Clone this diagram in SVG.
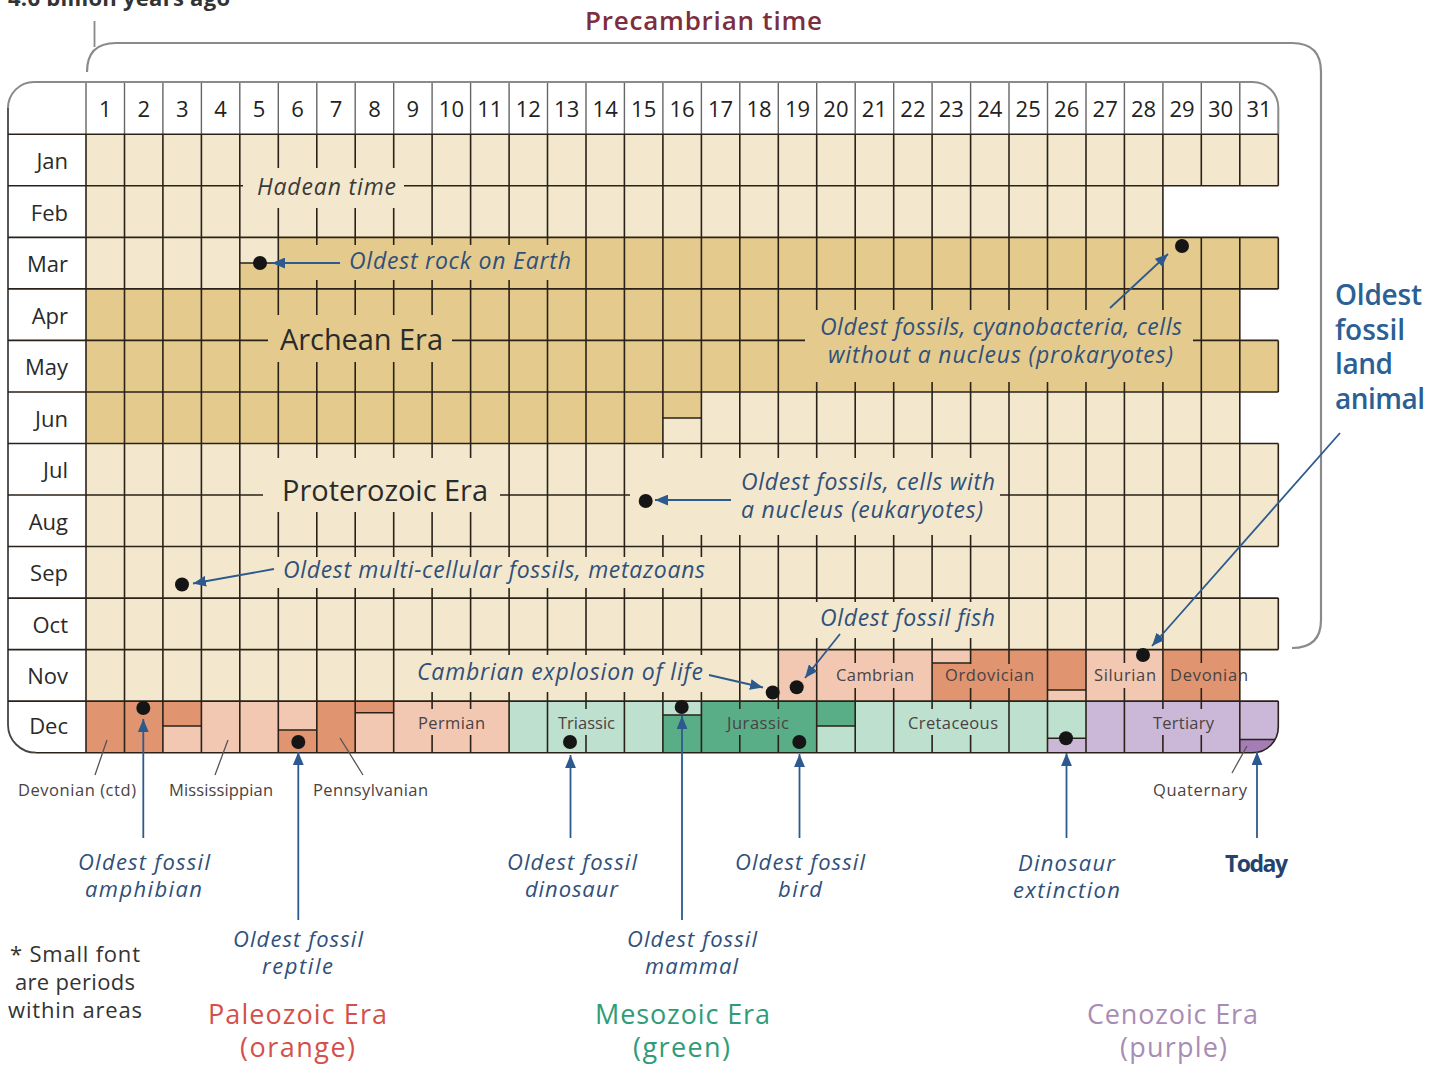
<svg xmlns="http://www.w3.org/2000/svg" width="1440" height="1065" viewBox="0 0 1440 1065">
<defs>
<style>
text{font-family:"Open Sans","Noto Sans","Liberation Sans",sans-serif}
.lt{fill:#F3E8CD}.dk{fill:#E4CA8C}.po{fill:#E0946F}.pl{fill:#F2C8B2}.gl{fill:#BEE0CF}.gd{fill:#5AAE87}.cl{fill:#CBB8D8}.cd{fill:#A57DB5}
.grid{stroke:#2a2219;stroke-width:1.6;fill:none}
.hdl{stroke:#666;stroke-width:1.4;fill:none}
.split{stroke:#2a2219;stroke-width:1.6}
.hd{font-size:22px;fill:#222;text-anchor:middle}
.mo{font-size:22px;fill:#2a2a2a;text-anchor:end}
.it{font-style:italic;font-size:23px;font-weight:500;fill:#30507a}
.era{font-size:29px;fill:#2b2b2b}
.per{font-size:16.5px;fill:#4a4242;text-anchor:middle}
.fl{font-style:italic;font-size:22px;font-weight:500;fill:#30507a;text-anchor:middle}
.arr{stroke:#2d5a8e;stroke-width:1.8;fill:none;marker-end:url(#ah)}
.lead{stroke:#555;stroke-width:1.3;fill:none}
.dot{fill:#151515}
.big{font-size:27px;text-anchor:middle}
</style>
<marker id="ah" viewBox="0 0 12 10" refX="12" refY="5" markerWidth="13" markerHeight="11" markerUnits="userSpaceOnUse" orient="auto">
<path d="M0,0 L12,5 L0,10 z" fill="#2d5a8e"/>
</marker>
</defs>
<rect width="1440" height="1065" fill="#fff"/>

<!-- top annotations -->
<g id="top-labels">
<text x="8" y="6" font-size="22" font-weight="bold" fill="#333" textLength="222">4.6 billion years ago</text>
<line x1="94.5" y1="21" x2="94.5" y2="47" stroke="#888" stroke-width="1.8"/>
<path d="M87,72 Q87,43 116,43 H1292 Q1321,43 1321,72 V620 Q1321,648 1292,648" stroke="#8a8a8a" stroke-width="2.2" fill="none"/>
<text x="703.5" y="30" font-size="26" font-weight="600" fill="#7d2e3e" text-anchor="middle" textLength="237">Precambrian time</text>
</g>

<!-- region fills -->
<g id="fills">
<rect class="lt" x="86" y="134.3" width="1192.3" height="51.5"/>
<rect class="lt" x="86" y="185.8" width="1076.9" height="51.6"/>
<rect class="lt" x="86" y="237.4" width="192.3" height="51.5"/>
<rect class="dk" x="239.8" y="263" width="38.5" height="25.9"/>
<rect class="dk" x="278.3" y="237.4" width="1000" height="51.5"/>
<rect class="dk" x="86" y="288.9" width="1153.8" height="51.5"/>
<rect class="dk" x="86" y="340.4" width="1192.3" height="51.6"/>
<rect class="dk" x="86" y="392" width="615.4" height="51.5"/>
<rect class="lt" x="662.9" y="418" width="38.5" height="25.5"/>
<rect class="lt" x="701.4" y="392" width="538.4" height="51.5"/>
<rect class="lt" x="86" y="443.5" width="1192.3" height="103"/>
<rect class="lt" x="86" y="546.5" width="1153.8" height="51.6"/>
<rect class="lt" x="86" y="598.1" width="1192.3" height="51.5"/>
<!-- Nov -->
<rect class="lt" x="86" y="649.6" width="692.3" height="51.5"/>
<rect class="pl" x="778.3" y="649.6" width="153.8" height="51.5"/>
<rect class="po" x="932.1" y="649.6" width="115.4" height="51.5"/>
<rect class="pl" x="932.1" y="649.6" width="38.5" height="13.4"/>
<rect class="po" x="1047.5" y="649.6" width="38.5" height="51.5"/>
<rect class="pl" x="1047.5" y="690" width="38.5" height="11.1"/>
<rect class="pl" x="1086" y="649.6" width="76.9" height="51.5"/>
<rect class="po" x="1162.9" y="649.6" width="76.9" height="51.5"/>
<!-- Dec -->
<rect class="po" x="86" y="701.1" width="115.4" height="51.6"/>
<rect class="pl" x="162.9" y="726" width="38.5" height="26.7"/>
<rect class="pl" x="201.4" y="701.1" width="115.4" height="51.6"/>
<rect class="po" x="278.3" y="730" width="38.5" height="22.7"/>
<rect class="po" x="316.8" y="701.1" width="76.9" height="51.6"/>
<rect class="pl" x="355.2" y="712.7" width="38.5" height="40"/>
<rect class="pl" x="393.7" y="701.1" width="115.4" height="51.6"/>
<rect class="gl" x="509.1" y="701.1" width="192.3" height="51.6"/>
<rect class="gd" x="662.9" y="715" width="38.5" height="37.7"/>
<rect class="gd" x="701.4" y="701.1" width="153.8" height="51.6"/>
<rect class="gl" x="816.7" y="726" width="38.5" height="26.7"/>
<rect class="gl" x="855.2" y="701.1" width="230.8" height="51.6"/>
<rect class="cl" x="1047.5" y="738.3" width="38.5" height="14.4"/>
<rect class="cl" x="1086" y="701.1" width="153.8" height="51.6"/>
<path class="cl" d="M1239.8,701.1 H1278.3 V727.1 A25.6,25.6 0 0 1 1252.7,752.7 H1239.8 Z"/>
<path class="cd" d="M1239.8,739.5 H1275.1 A25.6,25.6 0 0 1 1252.7,752.7 H1239.8 Z"/>
</g>

<!-- grid -->
<g id="grid">
<path class="hdl" d="M86,82V134.3 M124.5,82V134.3 M162.9,82V134.3 M201.4,82V134.3 M239.8,82V134.3 M278.3,82V134.3 M316.8,82V134.3 M355.2,82V134.3 M393.7,82V134.3 M432.1,82V134.3 M470.6,82V134.3 M509.1,82V134.3 M547.5,82V134.3 M586,82V134.3 M624.4,82V134.3 M662.9,82V134.3 M701.4,82V134.3 M739.8,82V134.3 M778.3,82V134.3 M816.7,82V134.3 M855.2,82V134.3 M893.7,82V134.3 M932.1,82V134.3 M970.6,82V134.3 M1009,82V134.3 M1047.5,82V134.3 M1086,82V134.3 M1124.4,82V134.3 M1162.9,82V134.3 M1201.3,82V134.3 M1239.8,82V134.3"/>
<path d="M8,108 A26,26 0 0 1 34,82 H1252.7 A25.6,25.6 0 0 1 1278.3,107.6 V134.3" stroke="#8a8a8a" stroke-width="2" fill="none"/>
<path d="M8,108 V724.7 A28,28 0 0 0 36,752.7" stroke="#444" stroke-width="1.8" fill="none"/>
<path class="grid" d="M86,134.3V752.7 M124.5,134.3V752.7 M162.9,134.3V752.7 M201.4,134.3V752.7 M239.8,134.3V752.7 M278.3,134.3V752.7 M316.8,134.3V752.7 M355.2,134.3V752.7 M393.7,134.3V752.7 M432.1,134.3V752.7 M470.6,134.3V752.7 M509.1,134.3V752.7 M547.5,134.3V752.7 M586,134.3V752.7 M624.4,134.3V752.7 M662.9,134.3V752.7 M701.4,134.3V752.7 M739.8,134.3V752.7 M778.3,134.3V752.7 M816.7,134.3V752.7 M855.2,134.3V752.7 M893.7,134.3V752.7 M932.1,134.3V752.7 M970.6,134.3V752.7 M1009,134.3V752.7 M1047.5,134.3V752.7 M1086,134.3V752.7 M1124.4,134.3V752.7 M1162.9,134.3V752.7 M1201.3,134.3V185.8 M1201.3,237.4V752.7 M1239.8,134.3V185.8 M1239.8,237.4V752.7 M1278.3,134.3V185.8 M1278.3,237.4V288.9 M1278.3,340.4V392 M1278.3,443.5V546.5 M1278.3,598.1V649.6 M1278.3,701.1V727.1 A25.6,25.6 0 0 1 1252.7,752.7 H36 M8,134.3H1278.3 M8,185.8H1278.3 M8,237.4H1278.3 M8,288.9H1278.3 M8,340.4H1278.3 M8,392H1278.3 M8,443.5H1278.3 M8,495H1278.3 M8,546.5H1278.3 M8,598.1H1278.3 M8,649.6H1278.3 M8,701.1H1278.3"/>
</g>

<!-- label knockouts -->
<g id="knockouts">
<rect class="lt" x="243" y="168" width="161" height="40"/>
<rect class="dk" x="282" y="245" width="296" height="35"/>
<rect class="dk" x="268" y="315" width="184" height="47"/>
<rect class="dk" x="805" y="310" width="388" height="72"/>
<rect class="lt" x="263" y="458" width="237" height="54"/>
<rect class="lt" x="630" y="458" width="370" height="77"/>
<rect class="lt" x="248" y="557" width="464" height="31"/>
<rect class="lt" x="806" y="602" width="194" height="36"/>
<rect class="lt" x="405" y="655" width="307" height="37"/>
<rect class="pl" x="832" y="663" width="86" height="25"/>
<rect class="po" x="941" y="664" width="97" height="24"/>
<rect class="pl" x="1090" y="663" width="70" height="25"/>
<rect class="po" x="1166" y="663" width="73" height="25"/>
<rect class="pl" x="412" y="709" width="78" height="26"/>
<rect class="gl" x="553" y="709" width="67" height="26"/>
<rect class="gd" x="722" y="709" width="72" height="26"/>
<rect class="gl" x="903" y="709" width="100" height="26"/>
<rect class="cl" x="1148" y="709" width="71" height="26"/>
</g>

<!-- split lines inside cells -->
<g id="splits">
<path class="split" d="M239.8,263H278.3 M662.9,418H701.4 M932.1,663H970.6 M1047.5,690H1086 M162.9,726H201.4 M278.3,730H316.8 M355.2,712.7H393.7 M662.9,715H701.4 M816.7,726H855.2 M1047.5,738.3H1086 M1239.8,739.5H1275.1"/>
</g>

<!-- header numbers -->
<g id="days">
<text class="hd" x="105.2" y="117">1</text><text class="hd" x="143.7" y="117">2</text><text class="hd" x="182.2" y="117">3</text><text class="hd" x="220.6" y="117">4</text><text class="hd" x="259.1" y="117">5</text><text class="hd" x="297.5" y="117">6</text><text class="hd" x="336" y="117">7</text><text class="hd" x="374.5" y="117">8</text><text class="hd" x="412.9" y="117">9</text><text class="hd" x="451.4" y="117">10</text><text class="hd" x="489.8" y="117">11</text><text class="hd" x="528.3" y="117">12</text><text class="hd" x="566.7" y="117">13</text><text class="hd" x="605.2" y="117">14</text><text class="hd" x="643.7" y="117">15</text><text class="hd" x="682.1" y="117">16</text><text class="hd" x="720.6" y="117">17</text><text class="hd" x="759" y="117">18</text><text class="hd" x="797.5" y="117">19</text><text class="hd" x="835.9" y="117">20</text><text class="hd" x="874.4" y="117">21</text><text class="hd" x="912.9" y="117">22</text><text class="hd" x="951.3" y="117">23</text><text class="hd" x="989.8" y="117">24</text><text class="hd" x="1028.2" y="117">25</text><text class="hd" x="1066.7" y="117">26</text><text class="hd" x="1105.2" y="117">27</text><text class="hd" x="1143.6" y="117">28</text><text class="hd" x="1182.1" y="117">29</text><text class="hd" x="1220.5" y="117">30</text><text class="hd" x="1259" y="117">31</text>
</g>

<!-- month labels -->
<g id="months">
<text class="mo" x="68" y="169">Jan</text>
<text class="mo" x="68" y="220.5">Feb</text>
<text class="mo" x="68" y="272">Mar</text>
<text class="mo" x="68" y="323.5">Apr</text>
<text class="mo" x="68" y="375">May</text>
<text class="mo" x="68" y="426.5">Jun</text>
<text class="mo" x="68" y="478">Jul</text>
<text class="mo" x="68" y="529.5">Aug</text>
<text class="mo" x="68" y="581">Sep</text>
<text class="mo" x="68" y="632.5">Oct</text>
<text class="mo" x="68" y="684">Nov</text>
<text class="mo" x="68" y="734">Dec</text>
</g>

<!-- in-grid labels -->
<g id="grid-labels">
<text class="it" x="326.5" y="195" style="fill:#3a3a3a" text-anchor="middle" textLength="139">Hadean time</text>
<text class="it" x="349" y="269" textLength="222">Oldest rock on Earth</text>
<text class="era" x="280" y="350" textLength="163">Archean Era</text>
<text class="it" x="1001" y="335" text-anchor="middle" textLength="362">Oldest fossils, cyanobacteria, cells</text>
<text class="it" x="1000.5" y="363" text-anchor="middle" textLength="345">without a nucleus (prokaryotes)</text>
<text class="era" x="282" y="501" textLength="206">Proterozoic Era</text>
<text class="it" x="741" y="490" textLength="254">Oldest fossils, cells with</text>
<text class="it" x="741" y="518" textLength="242">a nucleus (eukaryotes)</text>
<text class="it" x="283" y="578" textLength="422">Oldest multi-cellular fossils, metazoans</text>
<text class="it" x="820" y="626" textLength="175">Oldest fossil fish</text>
<text class="it" x="417" y="680" textLength="286">Cambrian explosion of life</text>
<text class="per" x="875" y="681" textLength="78">Cambrian</text>
<text class="per" x="989.5" y="681" textLength="89">Ordovician</text>
<text class="per" x="1125" y="681" textLength="62">Silurian</text>
<text class="per" x="1209" y="681" textLength="78">Devonian</text>
<text class="per" x="451.5" y="729" textLength="67">Permian</text>
<text class="per" x="586.5" y="729" textLength="57">Triassic</text>
<text class="per" x="758" y="729" textLength="62">Jurassic</text>
<text class="per" x="953" y="729" textLength="90">Cretaceous</text>
<text class="per" x="1183.5" y="729" textLength="61">Tertiary</text>
</g>

<!-- labels below the grid -->
<g id="bottom-labels">
<text class="per" x="77" y="796" textLength="118">Devonian (ctd)</text>
<text class="per" x="221" y="796" textLength="104">Mississippian</text>
<text class="per" x="370.5" y="796" textLength="115">Pennsylvanian</text>
<text class="per" x="1200" y="796" textLength="94">Quaternary</text>
<g id="amphibian"><text class="fl" x="144" y="870" textLength="132">Oldest fossil</text><text class="fl" x="143.5" y="897" textLength="117">amphibian</text></g>
<g id="reptile"><text class="fl" x="298" y="947" textLength="130">Oldest fossil</text><text class="fl" x="297.5" y="974" textLength="71">reptile</text></g>
<g id="dinosaur"><text class="fl" x="572" y="870" textLength="130">Oldest fossil</text><text class="fl" x="571.5" y="897" textLength="93">dinosaur</text></g>
<g id="mammal"><text class="fl" x="692" y="947" textLength="130">Oldest fossil</text><text class="fl" x="691.5" y="974" textLength="93">mammal</text></g>
<g id="bird"><text class="fl" x="800" y="870" textLength="130">Oldest fossil</text><text class="fl" x="800" y="897" textLength="44">bird</text></g>
<g id="extinction"><text class="fl" x="1066.5" y="871" textLength="97">Dinosaur</text><text class="fl" x="1066.5" y="898" textLength="107">extinction</text></g>
<g id="today"><text x="1256.5" y="872" font-size="23" font-weight="bold" fill="#23436e" text-anchor="middle" textLength="63">Today</text></g>
<g id="note">
<text x="75" y="962" font-size="22" fill="#333" text-anchor="middle" textLength="130">* Small font</text>
<text x="75" y="990" font-size="22" fill="#333" text-anchor="middle" textLength="120">are periods</text>
<text x="75" y="1018" font-size="22" fill="#333" text-anchor="middle" textLength="134">within areas</text>
</g>
<g id="eras">
<text class="big" x="297.5" y="1024" fill="#d4504a" textLength="179">Paleozoic Era</text>
<text class="big" x="297.5" y="1057" fill="#d4504a" textLength="115">(orange)</text>
<text class="big" x="682.5" y="1024" fill="#2f9c78" textLength="175">Mesozoic Era</text>
<text class="big" x="681.5" y="1057" fill="#2f9c78" textLength="97">(green)</text>
<text class="big" x="1172.5" y="1024" fill="#a98cb3" textLength="171">Cenozoic Era</text>
<text class="big" x="1173.5" y="1057" fill="#a98cb3" textLength="107">(purple)</text>
</g>
<g id="land-animal">
<text x="1335" y="305" font-size="28" font-weight="600" fill="#2c5f93" textLength="87">Oldest</text>
<text x="1335" y="340" font-size="28" font-weight="600" fill="#2c5f93" textLength="70">fossil</text>
<text x="1335" y="374" font-size="28" font-weight="600" fill="#2c5f93" textLength="58">land</text>
<text x="1335" y="409" font-size="28" font-weight="600" fill="#2c5f93" textLength="90">animal</text>
</g>
</g>

<!-- connectors -->
<g id="connectors">
<path class="lead" d="M95,775 L107,740 M215,775 L228,740 M363,775 L340,738 M1232,773 L1247,746"/>
<path class="arr" d="M340,263 L272,263"/>
<path class="arr" d="M1110,308 L1168,254"/>
<path class="arr" d="M731,500 L655,500"/>
<path class="arr" d="M274,569 L193,583.5"/>
<path class="arr" d="M840,634 L805,678"/>
<path class="arr" d="M709,675 L763,687.5"/>
<path class="arr" d="M1340,433 L1152,646"/>
<path class="arr" d="M143.3,838 L143.3,719"/>
<path class="arr" d="M298.3,920 L298.3,752"/>
<path class="arr" d="M570.5,838 L570.5,755"/>
<path class="arr" d="M682,920 L682,716"/>
<path class="arr" d="M799.5,838 L799.5,754"/>
<path class="arr" d="M1066.5,838 L1066.5,753"/>
<path class="arr" d="M1257,838 L1257,752"/>
</g>

<!-- event dots -->
<g id="dots">
<circle class="dot" cx="260" cy="263" r="7"/>
<circle class="dot" cx="1182" cy="246" r="7"/>
<circle class="dot" cx="645.7" cy="501" r="7"/>
<circle class="dot" cx="182" cy="584.5" r="7"/>
<circle class="dot" cx="143.3" cy="708" r="7"/>
<circle class="dot" cx="298.3" cy="742" r="7"/>
<circle class="dot" cx="570" cy="742" r="7"/>
<circle class="dot" cx="681.7" cy="707" r="7"/>
<circle class="dot" cx="799.3" cy="742" r="7"/>
<circle class="dot" cx="772.7" cy="692.5" r="7"/>
<circle class="dot" cx="796.7" cy="687.3" r="7"/>
<circle class="dot" cx="1143" cy="655" r="7"/>
<circle class="dot" cx="1066" cy="738.3" r="7"/>
</g>
</svg>
